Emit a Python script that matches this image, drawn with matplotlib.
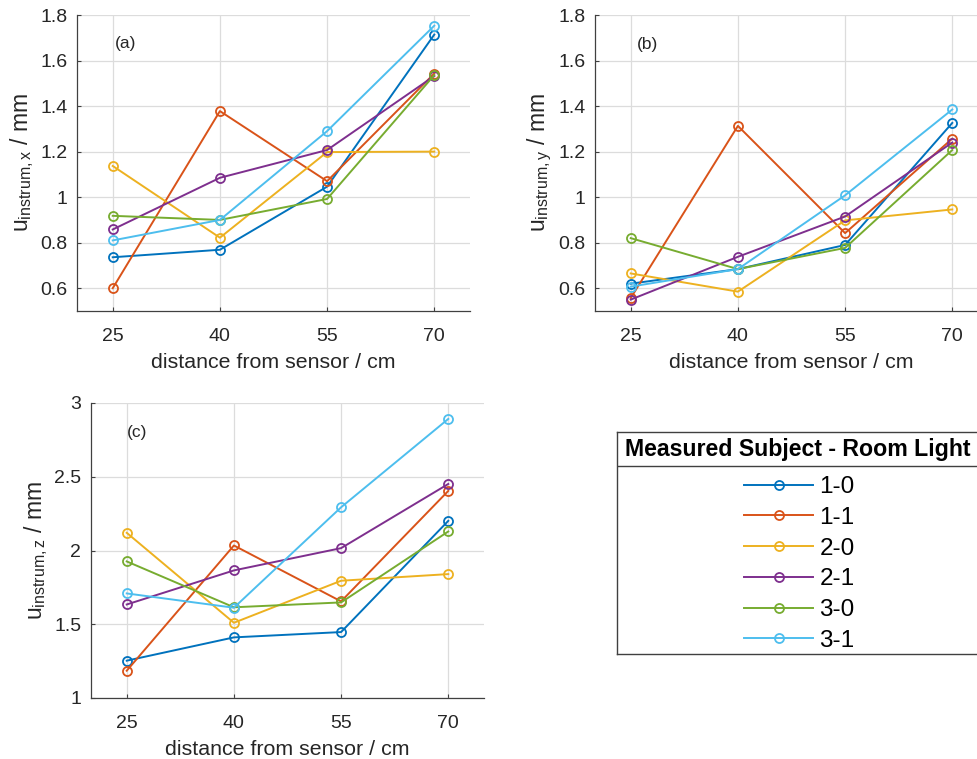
import matplotlib
matplotlib.use("Agg")
import matplotlib.pyplot as plt
from matplotlib.lines import Line2D

plt.rcParams['font.family'] = ['Liberation Sans', 'DejaVu Sans']
plt.rcParams['mathtext.fontset'] = 'custom'
plt.rcParams['mathtext.rm'] = 'Liberation Sans'
plt.rcParams['mathtext.it'] = 'Liberation Sans:italic'

distance = [25, 40, 55, 70]
labels = ['1-0', '1-1', '2-0', '2-1', '3-0', '3-1']
colors = ['#0072BD', '#D95319', '#EDB120', '#7E2F8E', '#77AC30', '#4DBEEE']

u_x = {
    '1-0': [0.736, 0.769, 1.046, 1.714],
    '1-1': [0.600, 1.378, 1.070, 1.543],
    '2-0': [1.137, 0.822, 1.198, 1.200],
    '2-1': [0.858, 1.085, 1.207, 1.532],
    '3-0': [0.918, 0.900, 0.992, 1.536],
    '3-1': [0.810, 0.900, 1.290, 1.753],
}
u_y = {
    '1-0': [0.620, 0.684, 0.790, 1.326],
    '1-1': [0.557, 1.313, 0.842, 1.257],
    '2-0': [0.665, 0.585, 0.898, 0.946],
    '2-1': [0.550, 0.738, 0.915, 1.240],
    '3-0': [0.820, 0.684, 0.777, 1.207],
    '3-1': [0.607, 0.684, 1.008, 1.385],
}
u_z = {
    '1-0': [1.253, 1.411, 1.447, 2.201],
    '1-1': [1.185, 2.034, 1.655, 2.404],
    '2-0': [2.120, 1.510, 1.795, 1.840],
    '2-1': [1.634, 1.865, 2.016, 2.451],
    '3-0': [1.926, 1.615, 1.648, 2.129],
    '3-1': [1.709, 1.612, 2.293, 2.892],
}

W, H = 977, 759
fig = plt.figure(figsize=(W / 100, H / 100), dpi=100)

def px_axes(l, t, r, b):
    return fig.add_axes([l / W, 1 - b / H, (r - l) / W, (b - t) / H])

panels = [
    (px_axes(77, 15, 470, 311), u_x, 'x', (0.5, 1.8), [0.6, 0.8, 1, 1.2, 1.4, 1.6, 1.8], '(a)', 0.097, 0.905),
    (px_axes(595, 15, 988, 311), u_y, 'y', (0.5, 1.8), [0.6, 0.8, 1, 1.2, 1.4, 1.6, 1.8], '(b)', 0.107, 0.90),
    (px_axes(91, 403, 484, 698), u_z, 'z', (1.0, 3.0), [1, 1.5, 2, 2.5, 3], '(c)', 0.092, 0.90),
]

txtc = '#262626'
for ax, data, comp, ylim, yticks, tag, tx, ty in panels:
    for lab, c in zip(labels, colors):
        ax.plot(distance, data[lab], '-o', color=c, lw=1.4, ms=6.5,
                mfc='none', mew=1.3, label=lab)
    ax.set_xlim(20, 75)
    ax.set_ylim(*ylim)
    ax.set_xticks(distance)
    ax.set_yticks(yticks)
    ax.set_yticklabels([('%g' % v) for v in yticks])
    ax.grid(True, color='#dcdcdc', lw=0.9)
    ax.set_axisbelow(True)
    for s in ['top', 'right']:
        ax.spines[s].set_visible(False)
    for s in ['left', 'bottom']:
        ax.spines[s].set_color('#404040')
        ax.spines[s].set_linewidth(0.9)
    ax.tick_params(direction='in', length=3, width=0.8, color='#404040',
                   labelsize=14, labelcolor=txtc)
    ax.tick_params(axis='y', pad=7)
    ax.tick_params(axis='x', pad=12)
    ax.set_xlabel('distance from sensor / cm', fontsize=15.4, color=txtc, labelpad=6)
    ax.set_ylabel(r'u$_{\mathrm{instrum,' + comp + r'}}$ / mm', fontsize=16.5, color=txtc, labelpad=3)
    ax.text(tx, ty, tag, transform=ax.transAxes, fontsize=12.5, color=txtc, va='center')

# legend box
lax = px_axes(617, 432, 990, 654)
lax.set_xticks([])
lax.set_yticks([])
for s in lax.spines.values():
    s.set_color('#404040')
    s.set_linewidth(1.0)
lax.set_xlim(0, 1)
lax.set_ylim(0, 1)
sep = 1 - (466 - 432) / (654 - 432)
lax.axhline(sep, color='#404040', lw=1.0)
lax.text((625 - 617) / 373, (1 + sep) / 2, 'Measured Subject - Room Light', fontsize=16.7,
         fontweight='bold', va='center', ha='left', color='black')
handles = [Line2D([], [], color=c, marker='o', mfc='none', lw=1.4, ms=6.5, mew=1.3)
           for c in colors]
lax.legend(handles, labels, loc='upper left',
           bbox_to_anchor=((744 - 617) / 373, (654 - 476) / 222),
           frameon=False, fontsize=17.5, handlelength=2.85, handletextpad=0.25,
           labelspacing=0.36, borderpad=0, borderaxespad=0)

fig.savefig('out.png', dpi=100)
